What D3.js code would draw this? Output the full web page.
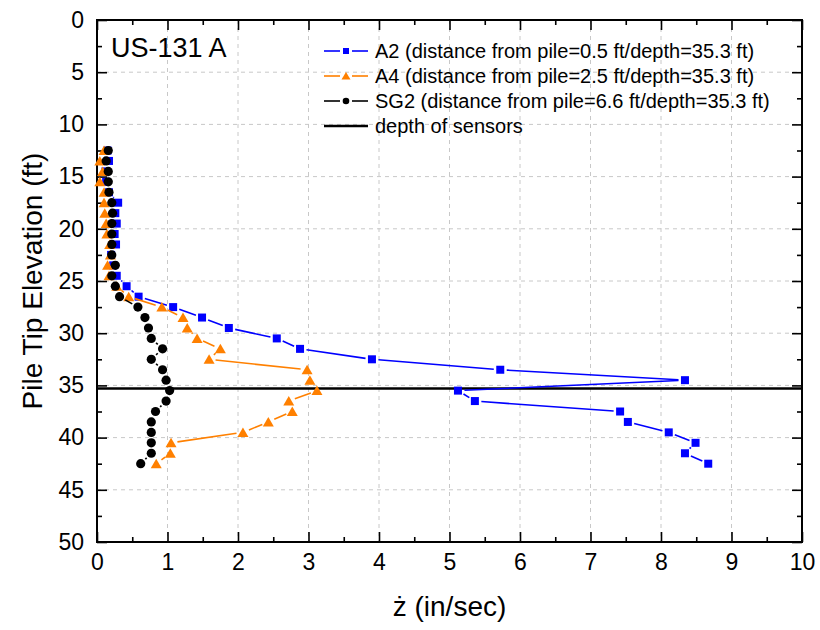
<!DOCTYPE html>
<html>
<head>
<meta charset="utf-8">
<script src="https://cdn.jsdelivr.net/npm/d3@7"></script>
<style>
  html, body { margin: 0; padding: 0; background: #fff; }
  svg { display: block; font-family: "Liberation Sans", Arial, sans-serif; }
</style>
</head>
<body>
<svg id="chart" width="820" height="630"></svg>
<script>
// Pile tip elevation (ft) for each reading
const depth = [12.5, 13.5, 14.5, 15.5, 16.5, 17.5, 18.5, 19.5, 20.5, 21.5,
               22.5, 23.5, 24.5, 25.5, 26.5, 27.5, 28.5, 29.5, 30.5, 31.5,
               32.5, 33.5, 34.5, 35.5, 36.5, 37.5, 38.5, 39.5, 40.5, 41.5, 42.5];

// Peak particle velocity, in/sec
const a2 = [0.15, 0.17, 0.12, 0.13, 0.17, 0.30, 0.26, 0.28, 0.25, 0.27,
            0.20, 0.23, 0.28, 0.42, 0.59, 1.08, 1.49, 1.87, 2.55, 2.88,
            3.90, 5.72, 8.34, 5.12, 5.36, 7.42, 7.53, 8.11, 8.49, 8.34, 8.67];
const a4 = [0.10, 0.04, 0.08, 0.04, 0.10, 0.10, 0.11, 0.13, 0.14, 0.18,
            0.19, 0.15, 0.17, 0.28, 0.45, 0.92, 1.22, 1.28, 1.42, 1.75,
            1.59, 2.98, 3.02, 3.12, 2.72, 2.77, 2.43, 2.07, 1.05, 1.04, 0.84];
const sg2 = [0.16, 0.13, 0.16, 0.16, 0.17, 0.21, 0.22, 0.21, 0.21, 0.21,
             0.21, 0.26, 0.21, 0.26, 0.32, 0.58, 0.68, 0.73, 0.77, 0.93,
             0.77, 0.93, 0.98, 1.03, 0.98, 0.83, 0.77, 0.77, 0.77, 0.77, 0.62];

const sensorDepth = 35.3;

const seriesNames = [
  "A2 (distance from pile=0.5 ft/depth=35.3 ft)",
  "A4 (distance from pile=2.5 ft/depth=35.3 ft)",
  "SG2 (distance from pile=6.6 ft/depth=35.3 ft)"
];
const sensorLabel = "depth of sensors";
const siteLabel = "US-131 A";
const xTitle = "\u017C (in/sec)";
const yTitle = "Pile Tip Elevation (ft)";

const xTicks = [0, 1, 2, 3, 4, 5, 6, 7, 8, 9, 10];
const yTicks = [0, 5, 10, 15, 20, 25, 30, 35, 40, 45, 50];

const series = [
  { name: seriesNames[0], values: a2,  color: "#0000ff", marker: "square" },
  { name: seriesNames[1], values: a4,  color: "#ff8000", marker: "triangle" },
  { name: seriesNames[2], values: sg2, color: "#000000", marker: "circle" }
];

const svg = d3.select("#chart");
const plotL = 97, plotR = 802, plotT = 20, plotB = 542;

const x = d3.scaleLinear().domain([0, 10]).range([plotL, plotR]);
const y = d3.scaleLinear().domain([0, 50]).range([plotT, plotB]);

// Dashed grid at major ticks
const grid = svg.append("g");
grid.selectAll("line.gx").data(xTicks.slice(1, -1)).join("line")
  .attr("x1", d => x(d)).attr("x2", d => x(d))
  .attr("y1", plotT).attr("y2", plotB)
  .attr("stroke", "#c8c8c8").attr("stroke-width", 1).attr("stroke-dasharray", "4,4");
grid.selectAll("line.gy").data(yTicks.slice(1, -1)).join("line")
  .attr("x1", plotL).attr("x2", plotR)
  .attr("y1", d => y(d)).attr("y2", d => y(d))
  .attr("stroke", "#c8c8c8").attr("stroke-width", 1).attr("stroke-dasharray", "4,4");

// Axes with inward ticks on all four sides
const minorX = d3.range(0.5, 10, 1);
const minorY = d3.range(2.5, 50, 5);
function styleAxis(g) {
  g.select(".domain").remove();
  g.selectAll(".tick line").attr("stroke", "#000").attr("stroke-width", 1.6);
}
const axB = svg.append("g").attr("transform", `translate(0,${plotB})`)
  .call(d3.axisBottom(x).tickValues(xTicks).tickSize(-10).tickPadding(12).tickFormat(d3.format("d")));
styleAxis(axB);
axB.selectAll("text").attr("font-size", 23).attr("fill", "#000").attr("dy", "0.71em")
  .attr("font-family", "Liberation Sans, Arial, sans-serif");
svg.append("g").attr("transform", `translate(0,${plotB})`)
  .call(d3.axisBottom(x).tickValues(minorX).tickSize(-5).tickFormat(""))
  .call(styleAxis);

const axT = svg.append("g").attr("transform", `translate(0,${plotT})`)
  .call(d3.axisTop(x).tickValues(xTicks).tickSize(-10).tickFormat(""));
styleAxis(axT);
svg.append("g").attr("transform", `translate(0,${plotT})`)
  .call(d3.axisTop(x).tickValues(minorX).tickSize(-5).tickFormat(""))
  .call(styleAxis);

const axL = svg.append("g").attr("transform", `translate(${plotL},0)`)
  .call(d3.axisLeft(y).tickValues(yTicks).tickSize(-10).tickPadding(13).tickFormat(d3.format("d")));
styleAxis(axL);
axL.selectAll("text").attr("font-size", 23).attr("fill", "#000")
  .attr("font-family", "Liberation Sans, Arial, sans-serif");
svg.append("g").attr("transform", `translate(${plotL},0)`)
  .call(d3.axisLeft(y).tickValues(minorY).tickSize(-5).tickFormat(""))
  .call(styleAxis);

const axR = svg.append("g").attr("transform", `translate(${plotR},0)`)
  .call(d3.axisRight(y).tickValues(yTicks).tickSize(-10).tickFormat(""));
styleAxis(axR);
svg.append("g").attr("transform", `translate(${plotR},0)`)
  .call(d3.axisRight(y).tickValues(minorY).tickSize(-5).tickFormat(""))
  .call(styleAxis);

// Frame
svg.append("rect").attr("x", plotL).attr("y", plotT)
  .attr("width", plotR - plotL).attr("height", plotB - plotT)
  .attr("fill", "none").attr("stroke", "#000").attr("stroke-width", 2);

// Sensor depth line
svg.append("line")
  .attr("x1", plotL).attr("x2", plotR)
  .attr("y1", y(sensorDepth)).attr("y2", y(sensorDepth))
  .attr("stroke", "#000").attr("stroke-width", 2.5);

// Marker shapes
function drawMarker(g, type, cx, cy, color) {
  if (type === "square") {
    g.append("rect").attr("x", cx - 4).attr("y", cy - 4)
      .attr("width", 8).attr("height", 8).attr("fill", color);
  } else if (type === "triangle") {
    g.append("path")
      .attr("d", `M${cx},${cy - 5}L${cx + 5.5},${cy + 4.5}L${cx - 5.5},${cy + 4.5}Z`)
      .attr("fill", color);
  } else {
    g.append("circle").attr("cx", cx).attr("cy", cy).attr("r", 4.6).attr("fill", color);
  }
}

// Connecting segments leave a small gap around each marker
const gap = 6.5;
series.forEach(s => {
  const g = svg.append("g");
  const pts = s.values.map((v, i) => [x(v), y(depth[i])]);
  for (let i = 0; i < pts.length - 1; i++) {
    const [x1, y1] = pts[i], [x2, y2] = pts[i + 1];
    const dx = x2 - x1, dy = y2 - y1, d = Math.hypot(dx, dy);
    if (d <= 2 * gap) continue;
    const ux = dx / d, uy = dy / d;
    g.append("line")
      .attr("x1", x1 + ux * gap).attr("y1", y1 + uy * gap)
      .attr("x2", x2 - ux * gap).attr("y2", y2 - uy * gap)
      .attr("stroke", s.color).attr("stroke-width", 1.6);
  }
  pts.forEach(([px, py]) => drawMarker(g, s.marker, px, py, s.color));
});

// Site label
svg.append("text").attr("x", 111).attr("y", 57)
  .attr("font-size", 27).attr("fill", "#000").text(siteLabel);

// Legend
const lg = svg.append("g");
const rowY = [51, 76, 101, 126];
const lx1 = 324, lx2 = 368, lmid = (lx1 + lx2) / 2;
series.forEach((s, i) => {
  const yy = rowY[i];
  lg.append("line").attr("x1", lx1).attr("x2", lmid - 6).attr("y1", yy).attr("y2", yy)
    .attr("stroke", s.color).attr("stroke-width", 1.6);
  lg.append("line").attr("x1", lmid + 6).attr("x2", lx2).attr("y1", yy).attr("y2", yy)
    .attr("stroke", s.color).attr("stroke-width", 1.6);
  const mg = lg.append("g");
  if (s.marker === "square") {
    mg.append("rect").attr("x", lmid - 3).attr("y", yy - 3).attr("width", 6).attr("height", 6).attr("fill", s.color);
  } else if (s.marker === "triangle") {
    mg.append("path").attr("d", `M${lmid},${yy - 4}L${lmid + 4.5},${yy + 3.5}L${lmid - 4.5},${yy + 3.5}Z`).attr("fill", s.color);
  } else {
    mg.append("circle").attr("cx", lmid).attr("cy", yy).attr("r", 3.3).attr("fill", s.color);
  }
  lg.append("text").attr("x", 375).attr("y", yy + 7)
    .attr("font-size", 20).attr("fill", "#000").text(s.name);
});
lg.append("line").attr("x1", lx1).attr("x2", lx2).attr("y1", rowY[3]).attr("y2", rowY[3])
  .attr("stroke", "#000").attr("stroke-width", 2.5);
lg.append("text").attr("x", 375).attr("y", rowY[3] + 7)
  .attr("font-size", 20).attr("fill", "#000").text(sensorLabel);

// Axis titles
svg.append("text").attr("x", (plotL + plotR) / 2).attr("y", 616)
  .attr("text-anchor", "middle").attr("font-size", 28).attr("fill", "#000").text(xTitle);
svg.append("text")
  .attr("transform", `translate(42,${(plotT + plotB) / 2}) rotate(-90)`)
  .attr("text-anchor", "middle").attr("font-size", 28).attr("fill", "#000").text(yTitle);
</script>
</body>
</html>
